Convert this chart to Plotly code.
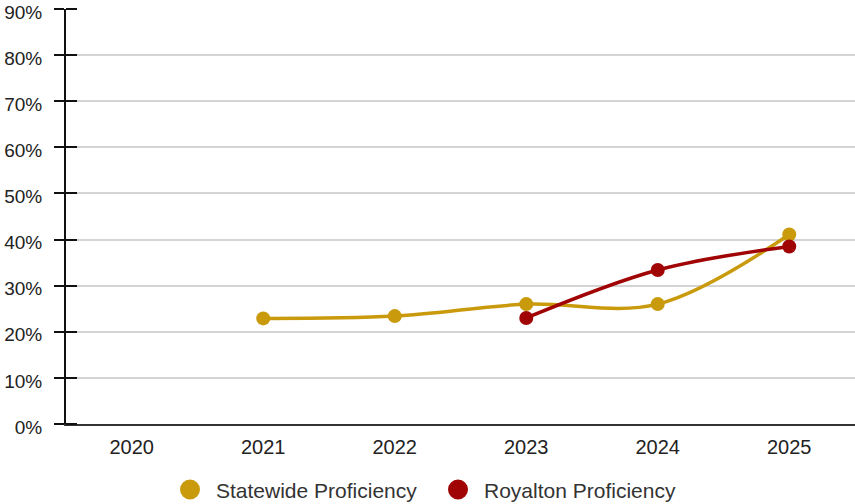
import plotly.graph_objects as go

# Proficiency by school year (percent of students proficient)
years = ["2020", "2021", "2022", "2023", "2024", "2025"]
statewide = [None, 22.9, 23.4, 26.0, 26.0, 41.1]
royalton = [None, None, None, 23.0, 33.4, 38.5]
y_ticks = [0, 10, 20, 30, 40, 50, 60, 70, 80, 90]
y_tick_text = [f"{v}%" for v in y_ticks]

GOLD = "#C99A0C"
RED = "#A00404"
FONT = "Liberation Sans, Arial, sans-serif"

fig = go.Figure()

for name, vals, color in [("Statewide Proficiency", statewide, GOLD),
                          ("Royalton Proficiency", royalton, RED)]:
    fig.add_trace(go.Scatter(
        x=years, y=vals, mode="lines+markers", name=name,
        line=dict(color=color, width=3.5, shape="spline", smoothing=1),
        marker=dict(color=color, size=14),
        connectgaps=False, showlegend=False,
    ))
    # legend entry showing just the round marker
    fig.add_trace(go.Scatter(
        x=[None], y=[None], mode="markers", name=name,
        marker=dict(color=color, size=16, line=dict(color=color, width=4)),
        hoverinfo="skip",
    ))

fig.update_layout(
    width=855, height=504,
    margin=dict(l=66, r=0, t=9, b=80, autoexpand=False),
    paper_bgcolor="white", plot_bgcolor="white",
    font=dict(family=FONT, color="#222222"),
    xaxis=dict(
        type="category", categoryorder="array", categoryarray=years,
        range=[-0.5, 5.5], showgrid=False, zeroline=False, automargin=False,
        showline=True, linecolor="#333333", linewidth=2,
        ticks="", tickfont=dict(size=20, family=FONT, color="#222222"),
        ticklabelstandoff=4,
    ),
    yaxis=dict(
        range=[0, 90], tickmode="array", tickvals=y_ticks,
        ticktext=y_tick_text, ticklabeloverflow="allow", automargin=False,
        showgrid=True, gridcolor="#d4d4d4", gridwidth=2,
        zeroline=False, showline=True, linecolor="#111111", linewidth=2,
        ticks="outside", ticklen=10, tickwidth=2, tickcolor="#111111",
        tickfont=dict(size=19, family=FONT, color="#222222"),
        ticklabelstandoff=8, ticklabelshift=3,
        minor=dict(tickmode="array", tickvals=y_ticks, ticks="inside",
                   ticklen=11, tickwidth=2, tickcolor="#111111",
                   showgrid=False),
    ),
    legend=dict(
        orientation="h", xref="container", yref="container",
        x=164 / 855, xanchor="left", y=0.028, yanchor="middle",
        font=dict(size=21, family=FONT, color="#333333"),
        itemsizing="trace", itemwidth=42,
        entrywidth=211, entrywidthmode="pixels",
    ),
    hovermode=False,
)

fig.write_html("out.html")
